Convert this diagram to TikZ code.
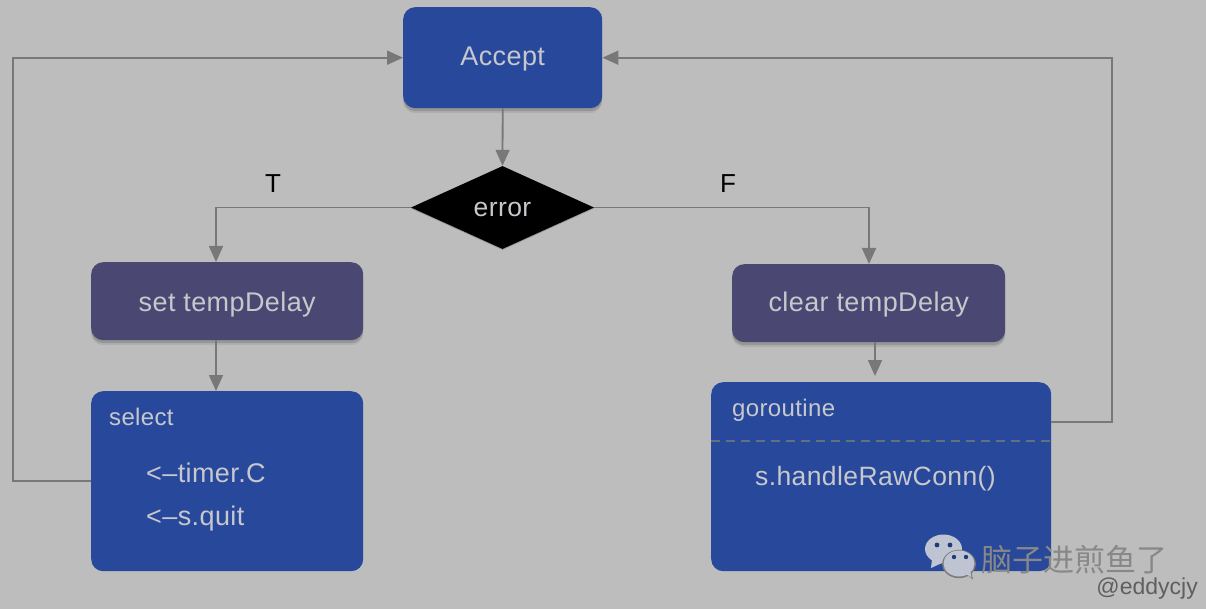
\documentclass[tikz,border=0pt]{standalone}
\usepackage{fontspec}
\setmainfont{Liberation Sans}
\newfontfamily\lbl[LetterSpace=1.5]{Liberation Sans}
\newfontfamily\cjkwm{Noto Sans CJK SC}
\usetikzlibrary{shapes.geometric,shadows,arrows.meta}
\definecolor{bgc}{HTML}{BDBDBD}
\definecolor{blueb}{HTML}{28489B}
\definecolor{purpleb}{HTML}{4A4873}
\definecolor{txt}{HTML}{C6C8CC}
\definecolor{conn}{HTML}{787878}
\definecolor{wechat}{HTML}{BEC4D2}
\tikzset{
  softshadow/.style={
    preaction={general shadow={shadow xshift=0pt,shadow yshift=-5pt,opacity=.07,fill=black,scale=1.015}},
    preaction={general shadow={shadow xshift=0pt,shadow yshift=-3pt,opacity=.14,fill=black,scale=1.005}}},
  box/.style={rounded corners=12pt,inner sep=0pt,text=txt,anchor=north west,font=\fontsize{27}{30}\lbl},
  bluebox/.style={box,fill=blueb},
  purplebox/.style={box,fill=purpleb,softshadow},
  lab/.style={inner sep=0pt,anchor=base west,text=txt,font=\fontsize{27}{30}\lbl},
  conline/.style={draw=conn,line width=1.8pt},
  arr/.style={conline,-{Triangle[length=16pt,width=14pt,fill=conn]}}
}
\begin{document}
\begin{tikzpicture}[x=1pt,y=-1pt]
\useasboundingbox (0,0) rectangle (1206,609);
\fill[bgc] (0,0) rectangle (1206,609);

\node[bluebox,softshadow,minimum width=199pt,minimum height=101pt,text height=22pt,text depth=6pt] (accept) at (403,7) {Accept};
\node[diamond,fill=black,text=txt,inner sep=0pt,aspect=2.2,minimum width=183pt,minimum height=83pt,font=\fontsize{26.5}{28}\lbl,text height=25pt,text depth=6pt,
  preaction={general shadow={shadow xshift=0pt,shadow yshift=-1pt,opacity=.2,fill=black,scale=1.02}}] (err) at (502.5,207.5) {error};
\node[purplebox,minimum width=272pt,minimum height=78pt,text height=26pt,text depth=6pt] (setd) at (91,262) {set tempDelay};
\node[purplebox,minimum width=273pt,minimum height=78pt,text height=22pt,text depth=6pt] (clrd) at (732,264) {clear tempDelay};
\node[bluebox,minimum width=272pt,minimum height=180pt] (sel) at (91,391) {};
\node[bluebox,minimum width=340pt,minimum height=189pt] (gor) at (711,382) {};

\node[lab,font=\fontsize{24}{27}\lbl] (t1) at (109,425) {select};
\node[lab] (t2) at (146,482) {<–timer.C};
\node[lab] (t3) at (146,525) {<–s.quit};
\node[lab,font=\fontsize{24}{27}\lbl] (t4) at (732,416) {goroutine};
\node[lab,font=\fontsize{26.5}{30}\lbl] (t5) at (755,485) {s.handleRawConn()};
\draw[draw=conn!80!blueb,line width=1.5pt,dash pattern=on 9pt off 6pt] (gor.west |- 0,441) -- (gor.east |- 0,441);

\node[inner sep=0pt,anchor=base,text=black,font=\fontsize{26}{30}\selectfont] (tl) at (273,193) {T};
\node[inner sep=0pt,anchor=base,text=black,font=\fontsize{26}{30}\selectfont] (fl) at (728,193) {F};

\coordinate (setin) at (216,262);
\coordinate (clrin) at (869,264);
\coordinate (gorin) at (875,376);
\coordinate (lrail) at (13,481);
\coordinate (rrail) at (1112,422);

\draw[arr] (accept.south) -- (err.north);
\draw[arr] (err.west) -| (setin);
\draw[arr] (err.east) -| (clrin);
\draw[arr] (setin |- setd.south) -- (setin |- sel.north);
\draw[arr] (gorin |- clrd.south) -- (gorin);
\draw[arr] (sel.west |- lrail) -- (lrail) |- (accept.west);
\draw[arr] (gor.east |- rrail) -- (rrail) |- (accept.east);

% WeChat mark
\fill[wechat] (943.5,549) ellipse[x radius=18.5pt,y radius=14.5pt];
\fill[wechat] (932,559) -- (931,568) -- (942,563) -- cycle;
\fill[black!35!bgc] (959,564) ellipse[x radius=16.8pt,y radius=14.2pt];
\fill[black!35!bgc] (966,574) -- (973,579.5) -- (971,570) -- cycle;
\fill[wechat] (959,563.5) ellipse[x radius=15.5pt,y radius=13pt];
\fill[wechat] (966,574) -- (971.5,577.5) -- (970,570) -- cycle;
\fill[blueb!80!black] (937,545) circle[radius=2.4pt];
\fill[blueb!80!black] (950,545) circle[radius=2.4pt];
\fill[blueb!80!black] (954,557) circle[radius=2.2pt];
\fill[blueb!80!black] (966,557) circle[radius=2.2pt];

\node[inner sep=0pt,anchor=base west,text=black!28!bgc,font=\fontsize{31}{34}\cjkwm] (wm) at (981,571) {脑子进煎鱼了};
\node[inner sep=0pt,anchor=base east,text=black!50!bgc,font=\fontsize{23}{26}\selectfont] (id) at (1198,594) {@eddycjy};
\end{tikzpicture}
\end{document}
